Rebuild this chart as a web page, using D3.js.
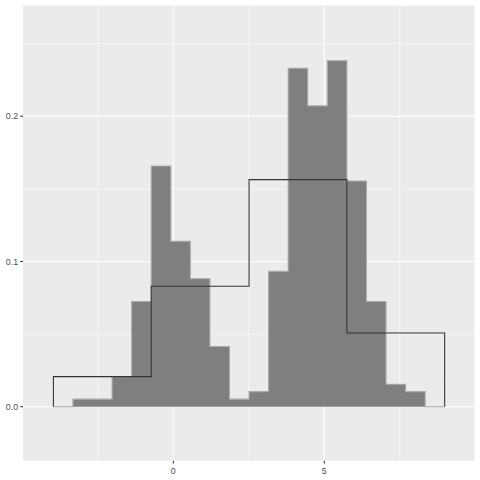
<!DOCTYPE html>
<html>
<head>
<meta charset="utf-8">
<script src="https://cdn.jsdelivr.net/npm/d3@7"></script>
<style>
  html, body { margin: 0; padding: 0; background: #ffffff; }
  svg { display: block; }
</style>
</head>
<body>
<script>
// ---- data ----
const fineEdges = [-3.970, -3.322, -2.674, -2.027, -1.379, -0.731, -0.083, 0.565, 1.212, 1.860,
                   2.508, 3.156, 3.804, 4.451, 5.099, 5.747, 6.395, 7.043, 7.690, 8.338, 8.986];
const fineDensity = [0, 0.0052, 0.0052, 0.0207, 0.0725, 0.1658, 0.1140, 0.0881, 0.0414, 0.0052,
                     0.0104, 0.0932, 0.2331, 0.2072, 0.2383, 0.1554, 0.0725, 0.0155, 0.0104, 0];
const coarseEdges = [-3.970, -0.731, 2.508, 5.747, 8.986];
const coarseDensity = [0.0207, 0.0829, 0.1564, 0.0508];
const xMajor = [0, 5];
const xMajorLabels = ["0", "5"];
const xMinor = [-2.5, 2.5, 7.5];
const yMajor = [0, 0.1, 0.2];
const yMajorLabels = ["0.0", "0.1", "0.2"];
const yMinor = [0.05, 0.15, 0.25];

// ---- layout ----
const W = 480, H = 480;
const panel = { left: 23.0, right: 474.52, top: 5.48, bottom: 460.7 };

const x = d3.scaleLinear().domain([-4.977, 9.974]).range([panel.left, panel.right]);
const y = d3.scaleLinear().domain([-0.03719, 0.27632]).range([panel.bottom, panel.top]);

const svg = d3.select("body").append("svg").attr("width", W).attr("height", H);

svg.append("rect").attr("width", W).attr("height", H).attr("fill", "#ffffff");
svg.append("rect")
  .attr("x", panel.left).attr("y", panel.top)
  .attr("width", panel.right - panel.left).attr("height", panel.bottom - panel.top)
  .attr("fill", "#EBEBEB");

const grid = svg.append("g");
// minor grid
grid.selectAll(".xmin").data(xMinor).join("line")
  .attr("x1", d => x(d)).attr("x2", d => x(d))
  .attr("y1", panel.top).attr("y2", panel.bottom)
  .attr("stroke", "#ffffff").attr("stroke-width", 0.53);
grid.selectAll(".ymin").data(yMinor).join("line")
  .attr("y1", d => y(d)).attr("y2", d => y(d))
  .attr("x1", panel.left).attr("x2", panel.right)
  .attr("stroke", "#ffffff").attr("stroke-width", 0.53);
// major grid
grid.selectAll(".xmaj").data(xMajor).join("line")
  .attr("x1", d => x(d)).attr("x2", d => x(d))
  .attr("y1", panel.top).attr("y2", panel.bottom)
  .attr("stroke", "#ffffff").attr("stroke-width", 1.07);
grid.selectAll(".ymaj").data(yMajor).join("line")
  .attr("y1", d => y(d)).attr("y2", d => y(d))
  .attr("x1", panel.left).attr("x2", panel.right)
  .attr("stroke", "#ffffff").attr("stroke-width", 1.07);

// step outline points
function stepPoints(edges, vals) {
  const pts = [[edges[0], 0]];
  vals.forEach((v, i) => { pts.push([edges[i], v]); pts.push([edges[i + 1], v]); });
  pts.push([edges[edges.length - 1], 0]);
  return pts;
}
const line = d3.line().x(d => x(d[0])).y(d => y(d[1]));

const finePts = stepPoints(fineEdges, fineDensity);
svg.append("path").attr("d", line(finePts) + "Z")
  .attr("fill", "#7F7F7F").attr("stroke", "none");
svg.append("path").attr("d", line(finePts))
  .attr("fill", "none").attr("stroke", "#A9A9A9").attr("stroke-width", 1.07)
  .attr("stroke-linejoin", "miter");

const coarsePts = stepPoints(coarseEdges, coarseDensity);
svg.append("path").attr("d", line(coarsePts))
  .attr("fill", "none").attr("stroke", "#333333").attr("stroke-width", 1.07)
  .attr("stroke-linejoin", "miter");

// axes
const axisColor = "#333333", textColor = "#4D4D4D";
const tickLen = 2.74;
const font = "'Liberation Sans', Arial, sans-serif";

svg.selectAll(".xtick").data(xMajor).join("line")
  .attr("x1", d => x(d)).attr("x2", d => x(d))
  .attr("y1", panel.bottom).attr("y2", panel.bottom + tickLen)
  .attr("stroke", axisColor).attr("stroke-width", 1.07);
svg.selectAll(".xlab").data(xMajor).join("text")
  .attr("x", d => x(d)).attr("y", 474.3)
  .attr("text-anchor", "middle")
  .attr("font-family", font).attr("font-size", 8.8).attr("fill", textColor)
  .text((d, i) => xMajorLabels[i]);

svg.selectAll(".ytick").data(yMajor).join("line")
  .attr("x1", panel.left - tickLen).attr("x2", panel.left)
  .attr("y1", d => y(d)).attr("y2", d => y(d))
  .attr("stroke", axisColor).attr("stroke-width", 1.07);
svg.selectAll(".ylab").data(yMajor).join("text")
  .attr("x", panel.left - tickLen - 2.2).attr("y", d => y(d) + 3.2)
  .attr("text-anchor", "end")
  .attr("font-family", font).attr("font-size", 8.8).attr("fill", textColor)
  .text((d, i) => yMajorLabels[i]);
</script>
</body>
</html>
